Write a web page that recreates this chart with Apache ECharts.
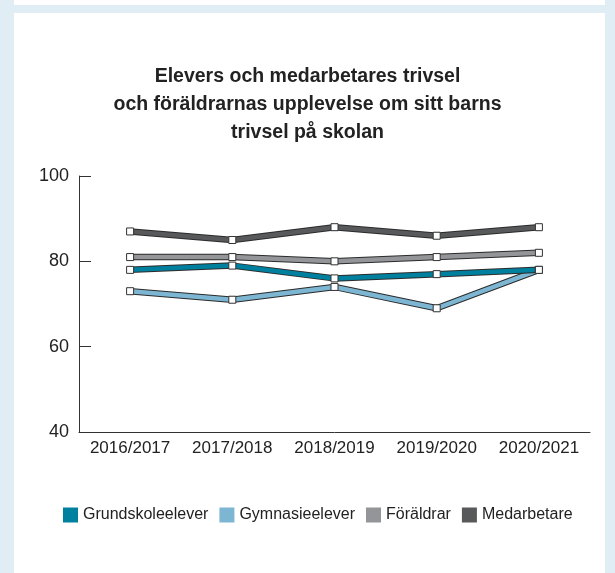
<!DOCTYPE html>
<html><head><meta charset="utf-8">
<script src="https://cdn.jsdelivr.net/npm/echarts@6/dist/echarts.min.js"></script>
<style>html,body{margin:0;padding:0;background:#e1edf4;}#c{width:615px;height:573px;}</style>
</head><body><div id="c"></div>
<script>
var categories = ['2016/2017','2017/2018','2018/2019','2019/2020','2020/2021'];
var grundskoleelever = [78, 79, 76, 77, 78];
var gymnasieelever = [73, 71, 74, 69, 78];
var foraldrar = [81, 81, 80, 81, 82];
var medarbetare = [87, 85, 88, 86, 88];
var yTicks = [40, 60, 80, 100];
var seriesNames = ['Grundskoleelever','Gymnasieelever','Föräldrar','Medarbetare'];
var colors = {'Grundskoleelever':'#00809f','Gymnasieelever':'#7db6d2','Föräldrar':'#939598','Medarbetare':'#58595b'};
var dataMap = {'Grundskoleelever':grundskoleelever,'Gymnasieelever':gymnasieelever,'Föräldrar':foraldrar,'Medarbetare':medarbetare};
var drawOrder = ['Gymnasieelever','Grundskoleelever','Föräldrar','Medarbetare'];
var FONT = '"Liberation Sans", Arial, sans-serif';

var series = [];
drawOrder.forEach(function(n){
  series.push({name:'_o_'+n, type:'line', data:dataMap[n], symbol:'none', silent:true,
    lineStyle:{color:'#2b2b2b', width:6.5}, itemStyle:{color:'#2b2b2b'}, animation:false});
  series.push({name:n, type:'line', data:dataMap[n], symbol:'rect', symbolSize:7,
    lineStyle:{color:colors[n], width:4.5}, itemStyle:{color:'#ffffff', borderColor:'#333', borderWidth:1},
    animation:false});
});

var chart = echarts.init(document.getElementById('c'), null, {renderer:'canvas'});
chart.setOption({
  backgroundColor:'#e1edf4',
  graphic:[
    {type:'rect', shape:{x:14,y:0,width:591,height:5}, style:{fill:'#ffffff'}, z:-10},
    {type:'rect', shape:{x:14,y:13,width:591,height:560}, style:{fill:'#ffffff'}, z:-10}
  ],
  title:{text:'Elevers och medarbetares trivsel\noch föräldrarnas upplevelse om sitt barns\ntrivsel på skolan',
    left:'center', top:58,
    textStyle:{fontFamily:FONT, fontWeight:'bold', fontSize:19.5, lineHeight:28, color:'#222'}},
  legend:{bottom:45, left:58, icon:'rect', itemWidth:15, itemHeight:15, itemGap:11,
    textStyle:{fontFamily:FONT, fontSize:16, color:'#222'},
    data:seriesNames.map(function(n){return {name:n, itemStyle:{color:colors[n], borderWidth:0}};})},
  grid:{left:79, right:25, top:176, bottom:141, containLabel:false},
  xAxis:{type:'category', data:categories, boundaryGap:true,
    axisLine:{lineStyle:{color:'#333', width:1}},
    axisTick:{inside:true, length:6, lineStyle:{color:'#333'}},
    axisLabel:{interval:0, fontFamily:FONT, fontSize:17, color:'#222', margin:8}},
  yAxis:{type:'value', min:40, max:100, interval:20,
    axisLine:{show:true, lineStyle:{color:'#333', width:1}},
    axisTick:{show:true, inside:true, length:12, lineStyle:{color:'#333'}},
    splitLine:{show:false},
    axisLabel:{fontFamily:FONT, fontSize:18, color:'#222', margin:10,
      formatter:function(v){return yTicks.indexOf(v)>=0 ? String(v) : '';}}},
  series:series
});
</script></body></html>
